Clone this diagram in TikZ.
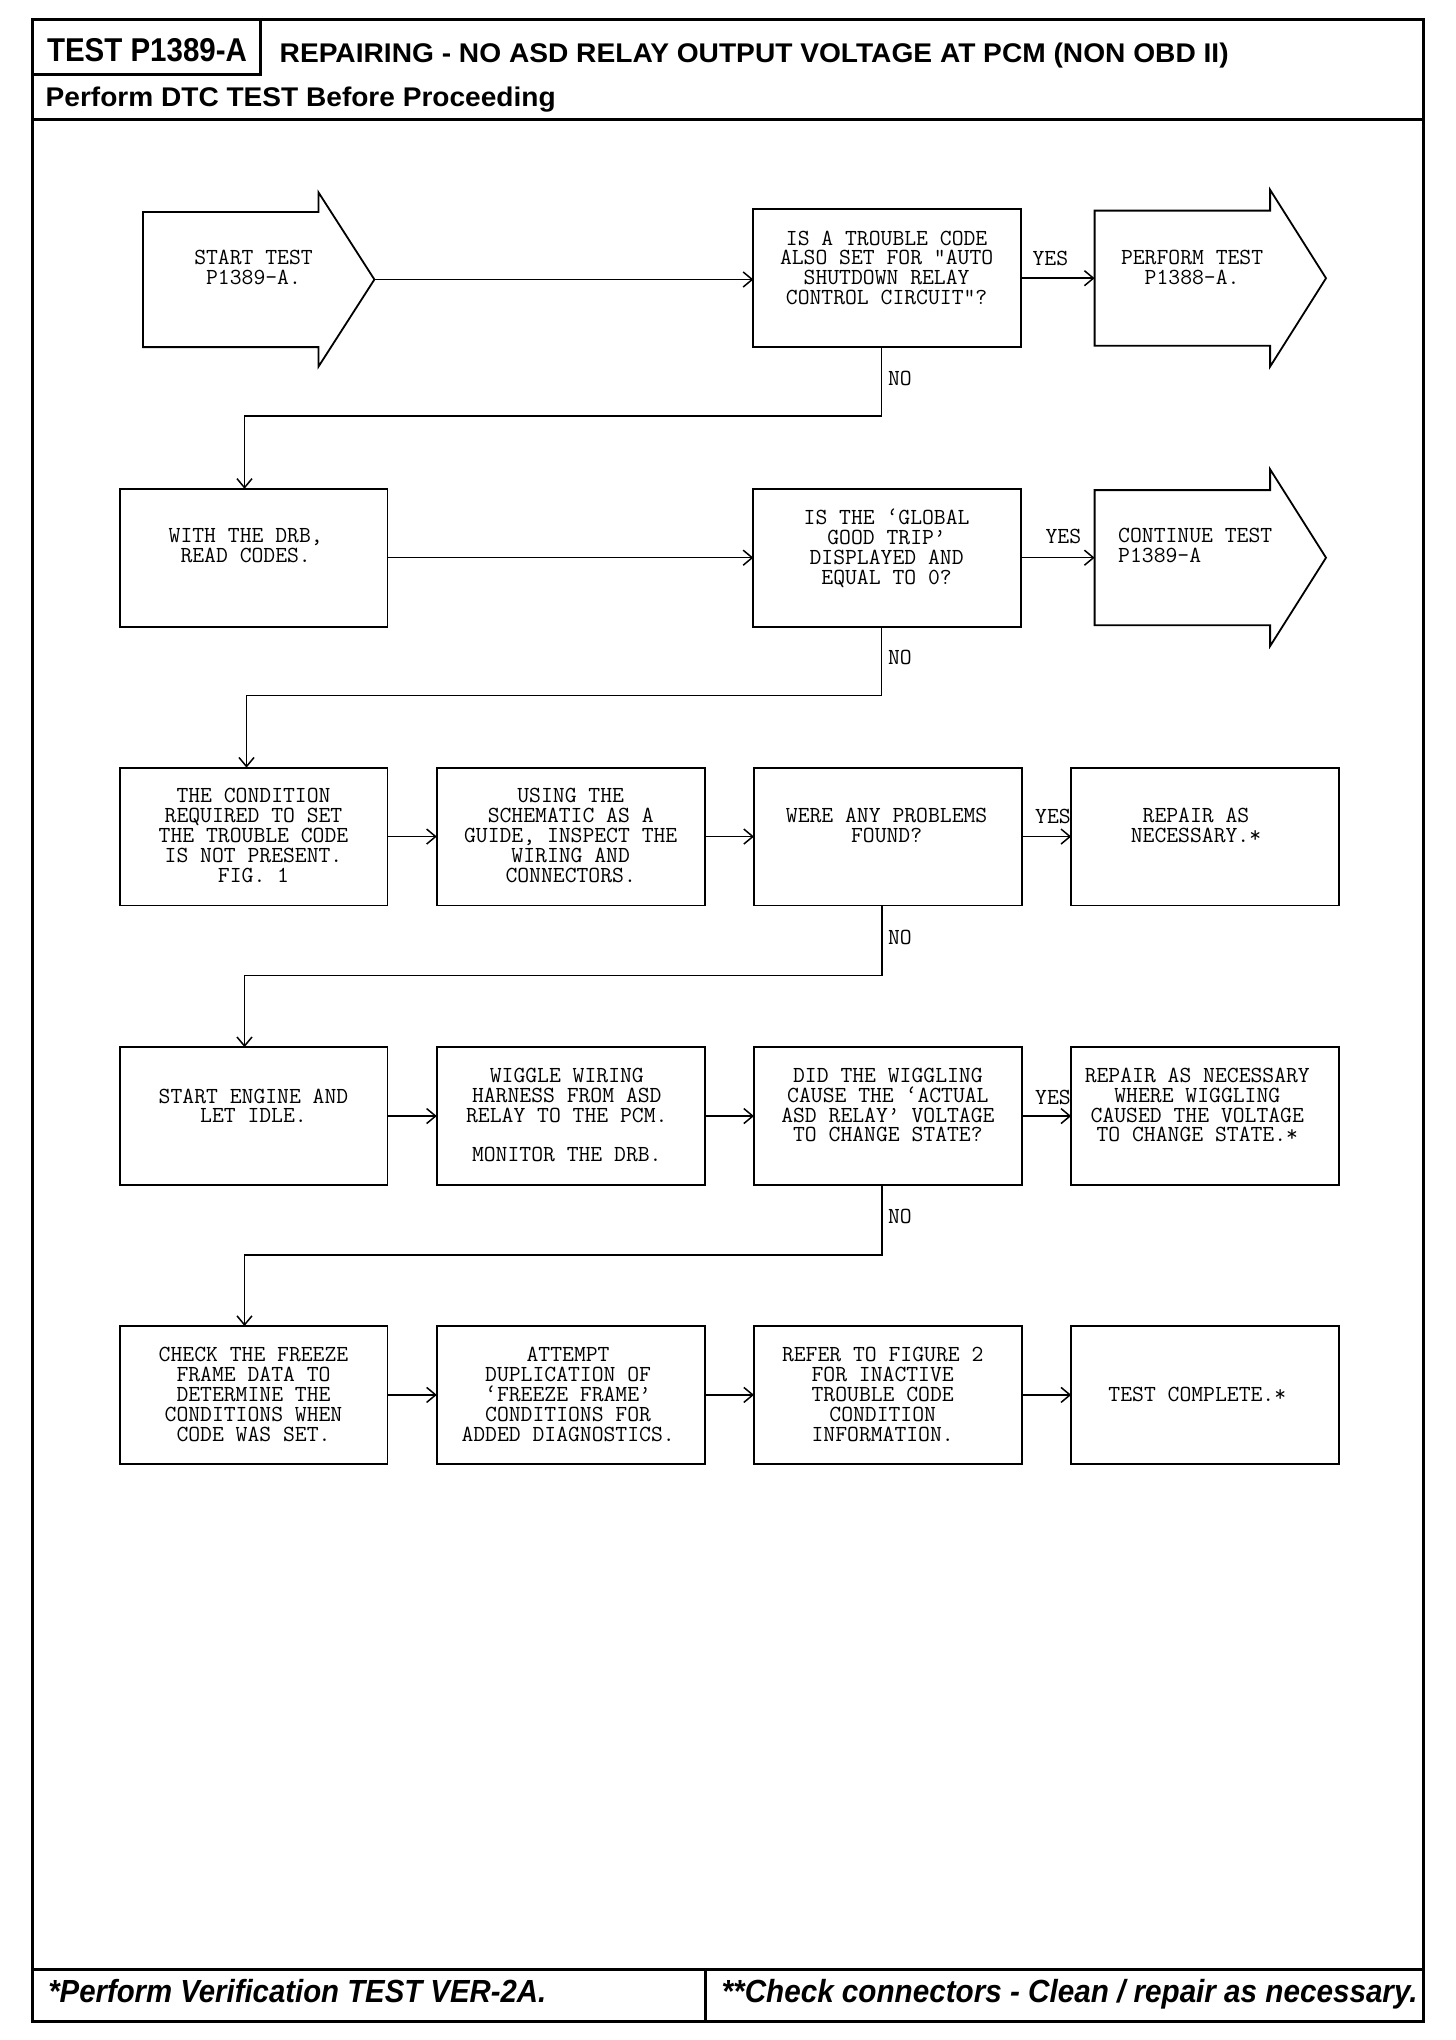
\documentclass[tikz,border=0pt]{standalone}
\usepackage{fontspec}
\setmainfont{Liberation Sans}
\newcommand\monoface{\ttfamily\addfontfeatures{FakeBold=1}}
\usetikzlibrary{arrows.meta,calc}
\tikzset{
  box/.style={draw, line width=1.8pt, minimum width=267.8pt, minimum height=137.8pt, inner sep=0pt, outer sep=0pt},
  body/.style={inner sep=0pt, outer sep=0pt, minimum width=175.5pt, minimum height=135.2pt},
  outl/.style={line width=1.8pt, line join=miter},
  txt/.style={font=\monoface\fontsize{23}{19.9}\selectfont, align=center, anchor=north, inner sep=0pt, execute at begin node={\rule{0pt}{15pt}}},
  txtl/.style={txt, align=left, anchor=north west},
  lbl/.style={font=\monoface\fontsize{23}{20}\selectfont, inner sep=0pt},
  conn/.style={line width=1.5pt, -{Straight Barb[length=9pt,width=15pt,line width=1.5pt]}},
  frame/.style={line width=3pt},
  hdr/.style={inner sep=0pt, anchor=base west},
}
\begin{document}
\begin{tikzpicture}[x=1.3pt, y=-1.3pt]
\useasboundingbox (0,0) rectangle (1120,1569.23);
% frame
\draw[frame] (25,15) rectangle (1095,1555);
\draw[frame] (25,92) -- (1095,92);
\draw[frame] (25,1515) -- (1095,1515);
\draw[frame] (543,1515) -- (543,1555);
\draw[frame] (200,15) -- (200,57) -- (25,57);
% header texts
\node[hdr] (ttest) at (36,47) {\resizebox{200pt}{\height}{\fontsize{33}{33}\selectfont\bfseries TEST P1389-A}};
\node[hdr] (ttitle) at (215,48) {\resizebox{949pt}{\height}{\fontsize{27}{27}\selectfont\bfseries REPAIRING - NO ASD RELAY OUTPUT VOLTAGE AT PCM (NON OBD II)}};
\node[hdr] (tsub) at (35,82) {\resizebox{510pt}{\height}{\fontsize{27}{27}\selectfont\bfseries Perform DTC TEST Before Proceeding}};
\node[hdr] (tfoot1) at (37,1540) {\resizebox{498pt}{\height}{\fontsize{32}{32}\selectfont\bfseries\itshape *Perform Verification TEST VER-2A.}};
\node[hdr] (tfoot2) at (555,1540) {\resizebox{696pt}{\height}{\fontsize{32}{32}\selectfont\bfseries\itshape **Check connectors - Clean / repair as necessary.}};

% ---------- row 1
\node[body] (start) at (177.5,215) {};
\draw[outl] (start.north west) -- (start.north east) -- (245,148) -- (288,215) -- (245,282) -- (start.south east) -- (start.south west) -- cycle;
\coordinate (starttip) at (288,215);
\node[txt] (startt) at (195,192.3) {START TEST\\P1389-A.};

\node[box] (q1) at (682.5,214) {};
\node[txt] (q1t) at (682,177.3) {IS A TROUBLE CODE\\ALSO SET FOR "AUTO\\SHUTDOWN RELAY\\CONTROL CIRCUIT"?};

\node[body] (p1) at (909.5,214) {};
\draw[outl] (p1.north west) -- (p1.north east) -- (977,146) -- (1020,214) -- (977,282) -- (p1.south east) -- (p1.south west) -- cycle;
\node[txt] (p1t) at (917,192.3) {PERFORM TEST\\P1388-A.};

\draw[conn] (starttip) -- (q1.west |- starttip);
\draw[conn] (q1.east) -- (p1.west);
\node[lbl] at (808,199) {YES};

% ---------- row 2
\node[box] (a2) at (195,429) {};
\node[txt] (a2t) at (189,406.3) {WITH THE DRB,\\READ CODES.};
\node[box] (q2) at (682.5,429) {};
\node[txt] (q2t) at (682,391.3) {IS THE ‘GLOBAL\\GOOD TRIP’\\DISPLAYED AND\\EQUAL TO 0?};
\node[body] (c2) at (909.5,429) {};
\draw[outl] (c2.north west) -- (c2.north east) -- (977,361) -- (1020,429) -- (977,497) -- (c2.south east) -- (c2.south west) -- cycle;
\node[txtl] (c2t) at (860,406.3) {CONTINUE TEST\\P1389-A};

\draw[conn] ([xshift=-6pt]q1.south) -- ++(0,53) -| ([xshift=-9pt]a2.north);
\node[lbl, anchor=west] at (683,291) {NO};
\draw[conn] (a2.east) -- (q2.west);
\draw[conn] (q2.east) -- (c2.west);
\node[lbl] at (818,413) {YES};

% ---------- row 3
\node[box] (a3) at (195,643.5) {};
\node[txt] at (195,606.3) {THE CONDITION\\REQUIRED TO SET\\THE TROUBLE CODE\\IS NOT PRESENT.\\FIG. 1};
\node[box] (b3) at (439,643.5) {};
\node[txt] at (439,606.3) {USING THE\\SCHEMATIC AS A\\GUIDE, INSPECT THE\\WIRING AND\\CONNECTORS.};
\node[box] (q3) at (683,643.5) {};
\node[txt] at (682,621.3) {WERE ANY PROBLEMS\\FOUND?};
\node[box] (d3) at (927,643.5) {};
\node[txt] at (920,621.3) {REPAIR AS\\NECESSARY.*};

\draw[conn] ([xshift=-6pt]q2.south) -- ++(0,53) -| ([xshift=-7pt]a3.north);
\node[lbl, anchor=west] at (683,506) {NO};
\draw[conn] (a3.east) -- (b3.west);
\draw[conn] (b3.east) -- (q3.west);
\draw[conn] (q3.east) -- (d3.west);
\node[lbl] at (810,628) {YES};

% ---------- row 4
\node[box] (a4) at (195,858.5) {};
\node[txt] at (195,837.3) {START ENGINE AND\\LET IDLE.};
\node[box] (b4) at (439,858.5) {};
\node[txt] at (436,821.3) {WIGGLE WIRING\\HARNESS FROM ASD\\RELAY TO THE PCM.\\[19.9pt]MONITOR THE DRB.};
\node[box] (q4) at (683,858.5) {};
\node[txt] at (683,821.3) {DID THE WIGGLING\\CAUSE THE ‘ACTUAL\\ASD RELAY’ VOLTAGE\\TO CHANGE STATE?};
\node[box] (d4) at (927,858.5) {};
\node[txt] at (921,821.3) {REPAIR AS NECESSARY\\WHERE WIGGLING\\CAUSED THE VOLTAGE\\TO CHANGE STATE.*};

\draw[conn] ([xshift=-6pt]q3.south) -- ++(0,54) -| ([xshift=-9pt]a4.north);
\node[lbl, anchor=west] at (683,721) {NO};
\draw[conn] (a4.east) -- (b4.west);
\draw[conn] (b4.east) -- (q4.west);
\draw[conn] (q4.east) -- (d4.west);
\node[lbl] at (810,844) {YES};

% ---------- row 5
\node[box] (a5) at (195,1073) {};
\node[txt] at (195,1036.3) {CHECK THE FREEZE\\FRAME DATA TO\\DETERMINE THE\\CONDITIONS WHEN\\CODE WAS SET.};
\node[box] (b5) at (439,1073) {};
\node[txt] at (437,1036.3) {ATTEMPT\\DUPLICATION OF\\‘FREEZE FRAME’\\CONDITIONS FOR\\ADDED DIAGNOSTICS.};
\node[box] (c5) at (683,1073) {};
\node[txt] at (679,1036.3) {REFER TO FIGURE 2\\FOR INACTIVE\\TROUBLE CODE\\CONDITION\\INFORMATION.};
\node[box] (d5) at (927,1073) {};
\node[txt] at (921,1066.3) {TEST COMPLETE.*};

\draw[conn] ([xshift=-6pt]q4.south) -- ++(0,54) -| ([xshift=-9pt]a5.north);
\node[lbl, anchor=west] at (683,936) {NO};
\draw[conn] (a5.east) -- (b5.west);
\draw[conn] (b5.east) -- (c5.west);
\draw[conn] (c5.east) -- (d5.west);
\end{tikzpicture}
\end{document}
